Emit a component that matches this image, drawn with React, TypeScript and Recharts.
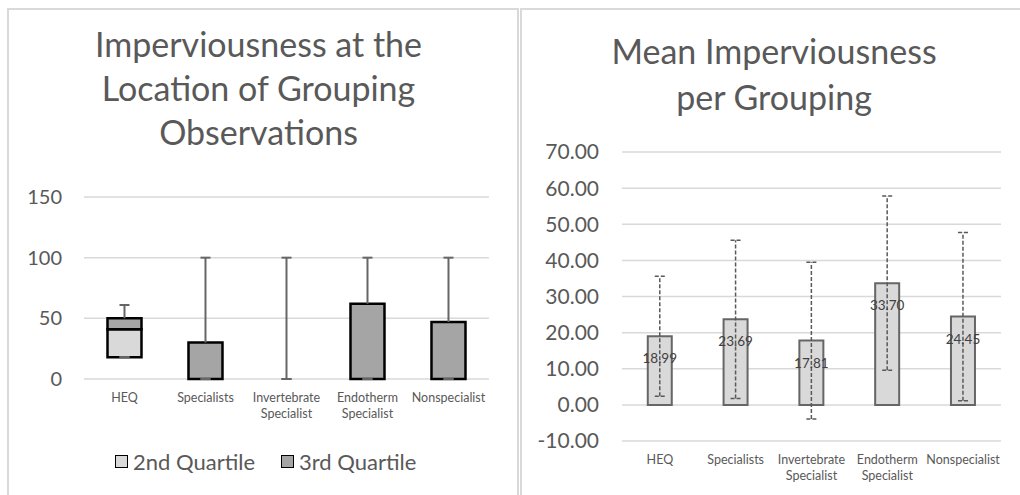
import React from 'react';
import {
  Bar,
  CartesianGrid,
  ComposedChart,
  ErrorBar,
  LabelList,
  Line,
  XAxis,
  YAxis,
} from 'recharts';

const groups = [
  'HEQ',
  'Specialists',
  'Invertebrate Specialist',
  'Endotherm Specialist',
  'Nonspecialist',
];

// left chart: box plot built from stacked bars
const firstQuartile = [18, 0, 0, 0, 0];
const secondQuartile = [23, 0, 0, 0, 0];
const thirdQuartile = [9, 30, 0, 62, 47];
const whiskerMin = [18, 0, 0, 0, 0];
const whiskerMax = [61, 100, 100, 100, 100];
const boxTicks = [0, 50, 100, 150];

// right chart: mean with error bars
const meanValues = [18.99, 23.69, 17.81, 33.7, 24.45];
const meanError = [16.6, 21.9, 21.7, 24.1, 23.3];
const meanTicks = [-10, 0, 10, 20, 30, 40, 50, 60, 70];

const boxData = groups.map((name, i) => ({
  name,
  q1: firstQuartile[i],
  q2: secondQuartile[i],
  q3: thirdQuartile[i],
  // upper whisker stacked on top of the box
  whisker:
    whiskerMax[i] - firstQuartile[i] - secondQuartile[i] - thirdQuartile[i],
  lower: [firstQuartile[i] - whiskerMin[i], 0],
}));

const meanData = groups.map((name, i) => ({
  name,
  mean: meanValues[i],
  err: meanError[i],
}));

const GREY_TEXT = '#595959';
const GRID = '#D9D9D9';

const CategoryTick = ({ x, y, payload }: any) => {
  const words = String(payload.value).split(' ');
  return (
    <text x={x} y={y} textAnchor='middle' fill={GREY_TEXT} fontSize={12.5}>
      {words.map((w, i) => (
        <tspan key={i} x={x} dy={i === 0 ? 21 : 16}>
          {w}
        </tspan>
      ))}
    </text>
  );
};

// vertical line + cap at the top, drawn in the stacked whisker segment
const WhiskerShape = ({ x, y, width, height }: any) => {
  if (!height) return null;
  const cx = x + width / 2;
  return (
    <g stroke='#666' strokeWidth={2}>
      <line x1={cx} y1={y} x2={cx} y2={y + height} />
      <line x1={cx - 5} y1={y} x2={cx + 5} y2={y} />
    </g>
  );
};

const MeanLabel = ({ x, y, width, value }: any) => (
  <text
    x={x + width / 2}
    y={y + 27}
    textAnchor='middle'
    fill='#404040'
    fontSize={13.5}
  >
    {Number(value).toFixed(2)}
  </text>
);

const LegendBox = ({ fill, label }: { fill: string; label: string }) => (
  <div style={{ display: 'flex', alignItems: 'center', marginRight: 26 }}>
    <div
      style={{
        width: 11,
        height: 11,
        background: fill,
        border: '1.5px solid #000',
        marginRight: 5,
      }}
    />
    <span style={{ fontSize: 22, color: GREY_TEXT }}>{label}</span>
  </div>
);

const title = {
  position: 'absolute' as const,
  fontSize: 34,
  color: GREY_TEXT,
  textAlign: 'center' as const,
};

export default function App() {
  return (
    <div
      style={{
        position: 'absolute',
        left: 0,
        top: 0,
        width: 1020,
        height: 495,
        background: '#fff',
        overflow: 'hidden',
        fontFamily: 'Lato, sans-serif',
      }}
    >
      <div
        style={{
          position: 'absolute',
          left: 7,
          top: 8,
          width: 508,
          height: 500,
          borderLeft: `2px solid ${GRID}`,
          borderTop: `2px solid ${GRID}`,
          borderRight: `2px solid ${GRID}`,
        }}
      />
      <div
        style={{
          position: 'absolute',
          left: 520,
          top: 8,
          width: 520,
          height: 500,
          borderLeft: `2px solid ${GRID}`,
          borderTop: `2px solid ${GRID}`,
        }}
      />

      <div style={{ ...title, left: 0, top: 22, width: 517, lineHeight: '44px' }}>
        Imperviousness at the
        <br />
        Location of Grouping
        <br />
        Observations
      </div>
      <div style={{ ...title, left: 520, top: 28, width: 508, lineHeight: '46px' }}>
        Mean Imperviousness
        <br />
        per Grouping
      </div>

      <div style={{ position: 'absolute', left: 0, top: 0 }}>
        <ComposedChart
          width={510}
          height={420}
          data={boxData}
          barCategoryGap='29%'
          margin={{ top: 197, right: 21, left: 0, bottom: 1 }}
        >
          <CartesianGrid vertical={false} stroke={GRID} strokeWidth={1.5} />
          <XAxis
            dataKey='name'
            axisLine={false}
            tickLine={false}
            tickSize={0}
            height={40}
            interval={0}
            tick={<CategoryTick />}
          />
          <YAxis
            domain={[0, 150]}
            ticks={boxTicks}
            width={84}
            axisLine={false}
            tickLine={false}
            tickSize={0}
            tickMargin={22}
            tick={{ fill: GREY_TEXT, fontSize: 20 }}
          />
          <Bar
            dataKey='q1'
            stackId='box'
            fill='none'
            legendType='none'
            isAnimationActive={false}
          />
          <Bar
            dataKey='q2'
            stackId='box'
            fill='#D9D9D9'
            stroke='#000'
            strokeWidth={2.5}
            isAnimationActive={false}
          />
          <Bar
            dataKey='q3'
            stackId='box'
            fill='#A5A5A5'
            stroke='#000'
            strokeWidth={2.5}
            isAnimationActive={false}
          />
          <Bar
            dataKey='whisker'
            stackId='box'
            legendType='none'
            shape={<WhiskerShape />}
            isAnimationActive={false}
          />
          <Line
            dataKey='q1'
            stroke='none'
            dot={false}
            activeDot={false}
            legendType='none'
            isAnimationActive={false}
          >
            <ErrorBar dataKey='lower' width={5} stroke='#666' strokeWidth={2} />
          </Line>
        </ComposedChart>
      </div>

      <div
        style={{
          position: 'absolute',
          left: 115,
          top: 447,
          height: 28,
          display: 'flex',
          alignItems: 'center',
        }}
      >
        <LegendBox fill='#D9D9D9' label='2nd Quartile' />
        <LegendBox fill='#A5A5A5' label='3rd Quartile' />
      </div>

      <div style={{ position: 'absolute', left: 520, top: 0 }}>
        <ComposedChart
          width={500}
          height={495}
          data={meanData}
          barCategoryGap='34%'
          margin={{ top: 152, right: 19, left: 0, bottom: 0 }}
        >
          <CartesianGrid vertical={false} stroke={GRID} strokeWidth={1.5} />
          <XAxis
            dataKey='name'
            axisLine={false}
            tickLine={false}
            tickSize={0}
            height={54}
            interval={0}
            tick={<CategoryTick />}
          />
          <YAxis
            domain={[-10, 70]}
            ticks={meanTicks}
            width={102}
            axisLine={false}
            tickLine={false}
            tickSize={0}
            tickMargin={23}
            tickFormatter={(v) => Number(v).toFixed(2)}
            tick={{ fill: GREY_TEXT, fontSize: 21 }}
          />
          <Bar
            dataKey='mean'
            fill='#D9D9D9'
            stroke='#666'
            strokeWidth={2}
            isAnimationActive={false}
          >
            <LabelList dataKey='mean' content={<MeanLabel />} />
            <ErrorBar
              dataKey='err'
              width={5}
              stroke='#595959'
              strokeWidth={1.5}
              strokeDasharray='4 2'
            />
          </Bar>
        </ComposedChart>
      </div>
    </div>
  );
}
